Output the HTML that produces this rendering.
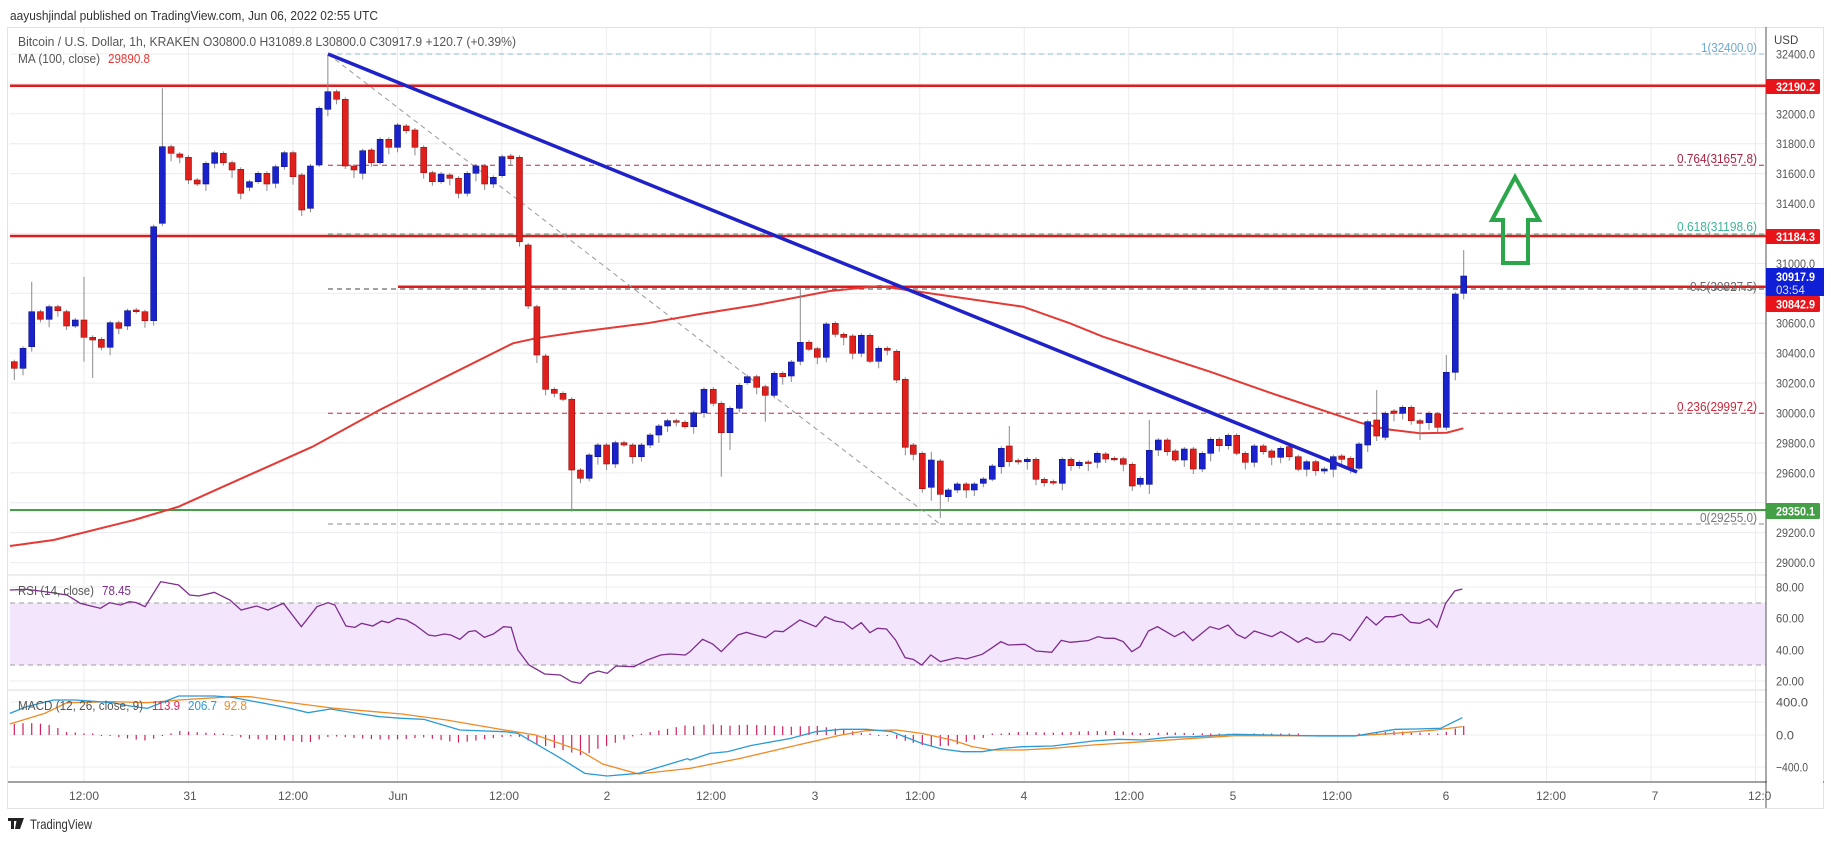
<!DOCTYPE html>
<html><head><meta charset="utf-8">
<style>
html,body{margin:0;padding:0;background:#fff;width:1834px;height:845px;overflow:hidden}
svg{display:block}
text{font-family:"Liberation Sans",sans-serif}
</style></head><body>
<svg id="s" width="1834" height="845" viewBox="0 0 1834 845" xmlns="http://www.w3.org/2000/svg">
<rect x="0" y="0" width="1834" height="845" fill="#fff"/>
<text x="10" y="20" font-size="13" fill="#333" textLength="368" lengthAdjust="spacingAndGlyphs">aayushjindal published on TradingView.com, Jun 06, 2022 02:55 UTC</text>
<rect x="7.5" y="27.5" width="1816" height="781" fill="none" stroke="#e3e3e3"/>
<g id="grid"></g>
<rect x="10" y="603" width="1756" height="62" fill="#f3e6fc"/>
<g id="g2"></g>
<g id="over"></g>
<g id="cd"></g>
<g id="top"></g>
<line x1="1766" y1="27" x2="1766" y2="808" stroke="#555" stroke-width="1"/>
<line x1="8" y1="782" x2="1824" y2="782" stroke="#444" stroke-width="1"/>
<g id="ax" font-size="12" fill="#555"></g>
<text x="18" y="46" font-size="12.5" fill="#555" textLength="498" lengthAdjust="spacingAndGlyphs">Bitcoin / U.S. Dollar, 1h, KRAKEN  O30800.0  H31089.8  L30800.0  C30917.9  +120.7 (+0.39%)</text>
<text x="18" y="63" font-size="12.5" fill="#555" textLength="82" lengthAdjust="spacingAndGlyphs">MA (100, close)</text>
<text x="108" y="63" font-size="12.5" fill="#e53935" textLength="42" lengthAdjust="spacingAndGlyphs">29890.8</text>
<text x="18" y="595" font-size="12.5" fill="#555" textLength="76" lengthAdjust="spacingAndGlyphs">RSI (14, close)</text>
<text x="102" y="595" font-size="12.5" fill="#7e2c8e" textLength="29" lengthAdjust="spacingAndGlyphs">78.45</text>
<text x="18" y="710" font-size="12.5" fill="#555" textLength="125" lengthAdjust="spacingAndGlyphs">MACD (12, 26, close, 9)</text>
<text x="152" y="710" font-size="12.5" fill="#e0245e" textLength="28" lengthAdjust="spacingAndGlyphs">113.9</text>
<text x="188" y="710" font-size="12.5" fill="#2a9ad6" textLength="29" lengthAdjust="spacingAndGlyphs">206.7</text>
<text x="224" y="710" font-size="12.5" fill="#f08a24" textLength="23" lengthAdjust="spacingAndGlyphs">92.8</text>
<g transform="translate(8,818)">
<path d="M0 0h9v3h-3v8h-3v-8h-3z M9 0h4l-3 11h-3z M12 0h4l-4 11h-2z" fill="#222"/>
</g>
<text x="30" y="829" font-size="14" fill="#333" textLength="62" lengthAdjust="spacingAndGlyphs">TradingView</text>
</svg>
<script>
const NS="http://www.w3.org/2000/svg";
function el(p,t,a,txt){const e=document.createElementNS(NS,t);for(const k in a)e.setAttribute(k,a[k]);if(txt!==undefined)e.textContent=txt;document.getElementById(p).appendChild(e);return e;}
const PY=p=>413-(p-30000)*0.1496;
// grid
for(let p=29000;p<=32400;p+=200){const y=PY(p);el('grid','line',{x1:10,x2:1766,y1:y,y2:y,stroke:'#ececf0'});}
[587,618,650,681,702,735,767].forEach(y=>el('grid','line',{x1:10,x2:1766,y1:y,y2:y,stroke:'#ececf0'}));
[575,690].forEach(y=>el('grid','line',{x1:8,x2:1824,y1:y,y2:y,stroke:'#dcdcdc'}));
for(let x=84;x<1766;x+=104.47){el('grid','line',{x1:x,x2:x,y1:28,y2:782,stroke:'#ececf0'});}
// rsi band lines
[603,665].forEach(y=>el('g2','line',{x1:10,x2:1766,y1:y,y2:y,stroke:'#9e9e9e','stroke-dasharray':'5,4'}));
// fib / levels
const fibs=[[54,'#8bb8d6'],[165.3,'#b3284a'],[234,'#3fb395'],[289,'#444'],[413.3,'#c62839'],[524,'#888']];
fibs.forEach(f=>el('over','line',{x1:328,x2:1766,y1:f[0],y2:f[0],stroke:f[1],'stroke-dasharray':'5,4'}));
el('over','line',{x1:10,x2:1766,y1:85.8,y2:85.8,stroke:'#e01b1b','stroke-width':2.5});
el('over','line',{x1:10,x2:1766,y1:236,y2:236,stroke:'#e01b1b','stroke-width':2.5});
el('over','line',{x1:398,x2:1766,y1:286.8,y2:286.8,stroke:'#e01b1b','stroke-width':2.5});
el('over','line',{x1:10,x2:1766,y1:510,y2:510,stroke:'#43a047','stroke-width':2});
el('over','line',{x1:328,y1:54,x2:940,y2:524,stroke:'#999','stroke-dasharray':'5,4'});
// fib labels
const fl=[['1(32400.0)',52,'#6fa8cf',56],['0.764(31657.8)',163,'#a8233f',80],['0.618(31198.6)',231,'#3fb395',80],['0.5(30827.5)',291,'#666',67],['0.236(29997.2)',411,'#c62839',80],['0(29255.0)',522,'#777',57]];
fl.forEach(f=>el('over','text',{x:1757-f[3],y:f[1],'font-size':12.5,fill:f[2],textLength:f[3],lengthAdjust:'spacingAndGlyphs'},f[0]));
// MA
const ma=[[10,546],[53.6,540],[134,520],[178.6,506.7],[223,486.7],[312.5,446.7],[379.5,410],[446,376.7],[513,343.3],[535.7,338.3],[580,331.7],[647,323.3],[700,314],[756.7,305],[830,291],[880,286],[907,290],[1023,306.7],[1070,323.3],[1103,336.7],[1210,371.7],[1276.7,395],[1360,422.7],[1386.7,429.3],[1420,433.3],[1446.7,432.7],[1463.3,428.3]];
el('over','polyline',{points:ma.map(p=>p.join(',')).join(' '),fill:'none',stroke:'#e53935','stroke-width':2});
// candles
const A=[[361.7,368.3,'r',0,380],[348.3,368.3,'b'],[311.7,346.7,'b',281.7],[311.7,319.3,'r'],[306.7,319.3,'b'],[306.7,310.7,'r'],[311.7,326,'r'],[320,326,'b'],[320,337.3,'r',276.7,361.7],[337.3,340,'r',0,378],[339.3,347.3,'r'],[322.7,347.3,'b'],[322.7,328.3,'r'],[310.7,326,'b'],[310,311.7,'r'],[311.7,320.7,'r'],[226.7,320.7,'b'],[146.7,223.3,'b',88.3],[146.7,153.3,'r'],[154,157.3,'r'],[157.3,180,'r'],[180,184,'r'],[163.3,184,'b'],[152.7,163.3,'b'],[153.3,162.7,'r'],[162.7,170,'r'],[169.3,193.3,'r'],[181.7,187.3,'b'],[173.3,181.7,'b'],[173.3,184,'r'],[166.7,183.3,'b'],[152.7,166.7,'b'],[152.7,176.7,'r'],[175,210,'r'],[166,208.3,'b'],[108.3,165,'b'],[91.7,109.3,'b',55],[91.7,99.3,'r'],[99.3,166,'r'],[166,170,'r'],[150.7,173.3,'b'],[150,162.7,'r'],[139.3,162.7,'b'],[139.3,147.3,'r'],[125,147.3,'b'],[126,130.7,'r'],[130,147.3,'r'],[147.3,172.7,'r'],[172.7,181.7,'r'],[174,181.7,'b'],[175,178.3,'r'],[178.3,193.3,'r'],[173.3,193.3,'b'],[166,173.3,'b'],[166,184,'r'],[177.3,184,'b'],[156.7,175.7,'b'],[156,158.7,'r'],[157.3,241.7,'r'],[245,306,'r'],[306.7,355,'r'],[356,389.3,'r'],[389.3,393.3,'r'],[393.3,399.3,'r'],[399.3,470,'r',0,511.7],[470,478.3,'r'],[455,478.3,'b'],[445,456.7,'b'],[445,464,'r'],[442.7,464,'b'],[442.7,445,'r'],[445,456.7,'r'],[445,456.7,'b'],[435,445,'b'],[426,435,'b'],[420.7,426,'b'],[420.7,422.3,'r'],[422.3,426.7,'r'],[412.7,426.7,'b']];
const C=[];
A.forEach((a,i)=>C.push([14.3+i*8.71,a[0],a[1],a[2],a[3]||0,a[4]||0]));
const B=[[704,389.3,412.7,'b'],[713.3,389.3,403.3,'r'],[721.3,403.3,432.7,'r',0,476.7],[730,408.3,432.7,'b',0,450],[739.3,385.3,408.3,'b'],[747.3,376.7,382.7,'b'],[756.7,376.7,387.3,'r'],[765.3,386.7,395.3,'r',0,421.7],[774.3,373.3,395.3,'b'],[782.7,373.3,376.7,'r'],[791.3,362,376,'b'],[800.3,342.3,361.3,'b',290],[809,342.3,349.3,'r'],[817.3,348.7,357.3,'r'],[826.3,324,357.3,'b'],[835.3,323.3,334.3,'r'],[843.7,334.3,337.3,'r'],[852.7,336,353.3,'r'],[861.3,335.3,353.3,'b'],[870,335.3,361.3,'r'],[878.7,348.3,361.3,'b'],[887.3,348.3,350.3,'r'],[896.7,351.3,380,'r'],[905.3,379.3,447.3,'r'],
[913.3,445,454.3,'r'],[922.3,453.3,488.7,'r'],[931.3,460,487.3,'b',451.7,500.7],[940.3,461,494.3,'r',0,518],[948.3,490,496.7,'b'],[957.3,484,490,'b'],[966.3,484,490,'r'],[974.3,484,490,'b'],[983.3,479,483.3,'b'],[992.3,466,479.3,'b'],[1001.3,448.3,466.7,'b'],[1009.3,446,461.7,'r',426],[1018.3,460.5,461.5,'r'],[1027.3,459.3,461.7,'b'],[1036,459.3,479.3,'r'],[1044.3,479.3,482.7,'r'],[1053.3,481.5,483,'r'],[1062.3,459.3,483.3,'b'],[1071,459.3,465.7,'r'],[1079.3,462.3,465.7,'b'],[1088.3,462,463,'r'],[1097.3,453.3,462.3,'b'],[1105.7,454,459,'r'],[1114.3,458.3,459.3,'r'],[1123.3,458.7,464.3,'r'],[1132.3,464.3,486,'r'],[1140.3,478.3,484.3,'b'],[1149.3,450.3,484.3,'b',420,494],
[1158.3,440,450,'b'],[1167.3,440,451.7,'r'],[1175.3,451,460,'r'],[1184.3,449,460,'b'],[1193.3,449,469,'r'],[1202.3,453.3,469,'b'],[1210.7,439.3,453.3,'b'],[1219.3,439.3,445.7,'r'],[1228.3,435.3,445.7,'b'],[1236.7,435.3,453.3,'r'],[1245.3,453.3,462.3,'r'],[1254.3,446,462.3,'b'],[1263.3,446,451.7,'r'],[1271.7,451,457.3,'r'],[1280.7,448.3,457.3,'b'],[1289.3,446.7,456.7,'r'],[1298.3,456.7,469.3,'r'],[1306.7,461.7,469.3,'b'],[1315.7,461.7,470.7,'r'],[1324.3,469,471,'b'],[1333.3,456.7,469.3,'b'],[1341.7,456,459.3,'r'],[1350.7,458.3,469.3,'r'],[1359,444,468.3,'b'],[1367.7,421.7,445,'b'],[1376.7,420,436,'r',390],[1385.3,413.3,437.3,'b'],[1394,411,413.3,'r'],[1402.7,407.3,413.3,'b'],[1411.3,407.3,420.7,'r'],[1420,420.7,423.3,'r',0,440],[1429,413.3,422.7,'b'],[1437.7,414,427.3,'r'],[1446.3,372.3,427.3,'b',355],[1455.3,294,372.3,'b'],[1463.7,276,293.3,'b',250]];
B.forEach(b=>C.push([b[0],b[1],b[2],b[3],b[4]||0,b[5]||0]));
C.forEach((c,i)=>{
 const [x,t,bt,col,wt,wb]=c;
 const wtop=wt||t-(2+(i*7)%7), wbot=wb||bt+(2+(i*5)%7);
 const fill=col==='r'?'#e0201c':'#1a22cc', st=col==='r'?'#9a1010':'#10168a';
 el('cd','line',{x1:x,x2:x,y1:wtop,y2:wbot,stroke:'#8a8a8a','stroke-width':1});
 el('cd','rect',{x:x-3,y:t,width:6,height:Math.max(1.5,bt-t),fill:fill,stroke:st,'stroke-width':0.6});
});
// blue trendline
el('top','line',{x1:328,y1:54,x2:1357,y2:472,stroke:'#1f22c8','stroke-width':3.5});
// green arrow
el('top','polygon',{points:'1515,177 1539,220 1528,220 1528,263 1503,263 1503,220 1492,220',fill:'none',stroke:'#2ca64a','stroke-width':4,'stroke-linejoin':'miter'});
// RSI
const rL=[[22,90],[60,88],[100,95],[150,105],[180,130],[225,145],[245,128],[270,135],[290,125],[305,128],[325,140],[360,65],[400,75],[425,105],[445,108],[480,97],[515,120],[540,150],[575,138],[600,150],[635,130],[675,200],[710,140],[735,128],[750,135],[775,198],[795,202],[810,190],[835,198],[855,183],[870,188],[890,175],[910,180],[930,195],[960,225],[975,228],[995,222],[1010,225],[1030,238],[1050,215],[1065,212],[1085,232],[1105,222],[1128,200],[1145,202],[1160,270],[1185,315],[1220,342],[1255,345],[1280,365],[1300,370],[1320,342],[1340,333],[1360,340],[1380,318],[1420,320],[1450,300],[1480,285],[1500,282],[1535,285]].map(p=>[p[0]/2.24,560+p[1]/3]);
const rR=[[0,230],[25,193],[45,207],[62,230],[95,180],[112,172],[130,180],[150,188],[168,168],[185,170],[218,135],[250,155],[268,125],[288,138],[305,142],[322,162],[340,143],[357,173],[372,160],[390,162],[408,195],[427,248],[443,253],[460,270],[478,240],[497,260],[530,248],[548,252],[580,238],[598,220],[617,200],[632,210],[665,208],[687,228],[718,232],[737,196],[755,202],[790,197],[810,185],[825,190],[843,190],[860,200],[877,230],[893,215],[910,168],[928,155],[945,170],[962,185],[980,170],[998,197],[1032,155],[1050,163],[1068,150],[1085,178],[1102,190],[1120,168],[1155,185],[1173,170],[1190,185],[1207,202],[1224,188],[1242,202],[1258,200],[1275,175],[1293,180],[1310,197],[1343,125],[1362,150],[1380,125],[1397,125],[1413,118],[1430,142],[1448,145],[1467,132],[1483,157],[1500,85],[1518,48],[1533,42]].map(p=>[690+p[0]/1.985,575+p[1]/3]);
const rsi=rL.concat(rR);
el('top','polyline',{points:rsi.map(p=>p.join(',')).join(' '),fill:'none',stroke:'#7e2c8e','stroke-width':1.3});
// MACD
const bL=[[22,460],[60,440],[120,420],[170,420],[250,428],[300,440],[330,445],[400,408],[480,408],[520,412],[600,432],[650,445],[690,458],[740,447],[800,460],[850,470],[900,475],[950,478],[1030,510],[1130,515],[1160,520],[1250,590],[1310,640],[1360,648],[1430,640],[1540,596]].map(p=>[p[0]/2.24,560+p[1]/3]);
const bR=[[0,555],[40,535],[75,530],[120,512],[200,490],[250,470],[300,463],[350,463],[400,470],[460,505],[500,522],[540,530],[580,530],[620,520],[660,515],[720,513],[800,498],[850,493],[900,495],[950,487],[1000,485],[1080,478],[1150,480],[1250,483],[1320,483],[1400,463],[1440,462],[1490,460],[1533,428]].map(p=>[690+p[0]/1.985,575+p[1]/3]);
const oL=[[22,492],[100,460],[150,428],[250,425],[330,428],[400,420],[520,410],[560,410],[650,428],[750,445],[900,462],[1000,480],[1130,510],[1200,525],[1300,572],[1350,612],[1430,642],[1540,626]].map(p=>[p[0]/2.24,560+p[1]/3]);
const oR=[[0,580],[100,550],[200,515],[300,480],[350,467],[410,465],[460,475],[520,495],[560,515],[600,525],[660,525],[720,520],[800,510],[900,500],[1000,490],[1080,482],[1200,482],[1320,482],[1400,475],[1480,465],[1533,455]].map(p=>[690+p[0]/1.985,575+p[1]/3]);
const mb=bL.concat(bR), mo=oL.concat(oR);
function interp(P,x){if(x<=P[0][0])return P[0][1];for(let i=1;i<P.length;i++){if(x<=P[i][0]){const a=P[i-1],b=P[i];return a[1]+(b[1]-a[1])*(x-a[0])/(b[0]-a[0]);}}return P[P.length-1][1];}
C.forEach(c=>{const x=c[0];let h=interp(mo,x)-interp(mb,x);if(Math.abs(h)<1)h=h<0?-1:1.5;el('g2','line',{x1:x,x2:x,y1:735,y2:735-h,stroke:'#d21f5c','stroke-width':1.2});});
el('top','polyline',{points:mo.map(p=>p.join(',')).join(' '),fill:'none',stroke:'#f08a24','stroke-width':1.3});
el('top','polyline',{points:mb.map(p=>p.join(',')).join(' '),fill:'none',stroke:'#2a9ad6','stroke-width':1.3});
// axis
el('ax','rect',{x:1767,y:28,width:56,height:780,fill:'#fff'});
el('ax','text',{x:1774,y:44,'font-size':11.5,fill:'#444'},'USD');
[32400,32000,31800,31600,31400,31000,30600,30400,30200,30000,29800,29600,29200,29000].forEach(p=>{el('ax','text',{x:1776,y:PY(p)+4.5,textLength:39,lengthAdjust:'spacingAndGlyphs'},p.toFixed(1));});
[[80,587],[60,618],[40,650],[20,681]].forEach(r=>el('ax','text',{x:1776,y:r[1]+4.5,textLength:28,lengthAdjust:'spacingAndGlyphs'},r[0].toFixed(2)));
el('ax','text',{x:1776,y:706.5,textLength:32,lengthAdjust:'spacingAndGlyphs'},'400.0');
el('ax','text',{x:1776,y:739.5,textLength:18,lengthAdjust:'spacingAndGlyphs'},'0.0');
el('ax','text',{x:1776,y:771.5,textLength:32,lengthAdjust:'spacingAndGlyphs'},'\u2212400.0');
function box(y1,y2,col,txt){el('ax','rect',{x:1766,y:y1,width:54,height:y2-y1,fill:col,rx:1.5});el('ax','text',{x:1776,y:(y1+y2)/2+4.5,fill:'#fff','font-weight':'bold',textLength:39,lengthAdjust:'spacingAndGlyphs'},txt);}
box(79,94,'#e8141a','32190.2');
box(229,244,'#e8141a','31184.3');
box(296,312,'#e8141a','30842.9');
box(503,519,'#43a047','29350.1');
el('ax','rect',{x:1766,y:268,width:58,height:28,fill:'#0f1fd6'});
el('ax','text',{x:1776,y:281,fill:'#fff','font-weight':'bold',textLength:39,lengthAdjust:'spacingAndGlyphs'},'30917.9');
el('ax','text',{x:1776,y:294,fill:'#dde','font-size':11.5},'03:54');
// time labels
const tl=[[84,'12:00'],[190,'31'],[293,'12:00'],[398,'Jun'],[504,'12:00'],[607,'2'],[711,'12:00'],[815,'3'],[920,'12:00'],[1024,'4'],[1129,'12:00'],[1233,'5'],[1337,'12:00'],[1446,'6'],[1551,'12:00'],[1655,'7']];
tl.forEach(t=>el('ax','text',{x:t[0],y:800,'text-anchor':'middle'},t[1]));
el('ax','text',{x:1748,y:800},'12:0');
</script>
</body></html>
